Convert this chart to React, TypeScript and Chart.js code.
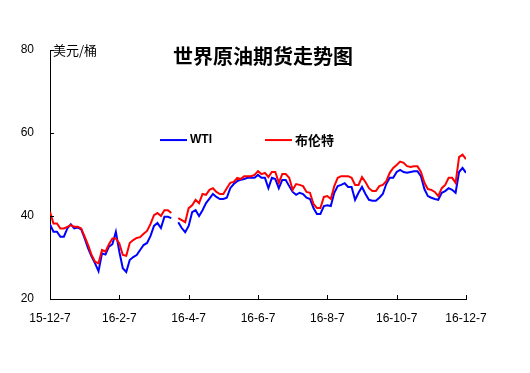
import React, { useEffect, useRef } from "react";
import { Chart, registerables } from "chart.js";

Chart.register(...registerables);

const titleText = "世界原油期货走势图";
const unitLabel = "美元/桶";
const seriesNames = ["WTI", "布伦特"];
const seriesColors = ["#0000FF", "#FF0000"];
const xTickLabels = ["15-12-7", "16-2-7", "16-4-7", "16-6-7", "16-8-7", "16-10-7", "16-12-7"];
const yTickValues = [20, 40, 60, 80];
const pointsPerTick = 20;

const wti: (number | null)[] = [
  38.0, 36.2, 36.2, 35.0, 35.0, 37.0, 38.0, 37.0, 37.2, 36.8,
  34.6, 32.2, 30.2, 28.6, 26.7, 31.0, 30.7, 32.6, 33.2, 36.2,
  31.4, 27.4, 26.5, 29.4, 30.1, 30.6, 31.8, 33.0, 33.5, 35.2,
  37.6, 38.3, 37.1, 39.8, 39.8, 39.5, null, 38.5, 37.1, 36.1,
  37.6, 40.9, 41.4, 40.0, 41.4, 43.1, 44.2, 45.3, 44.6, 44.1,
  44.1, 44.4, 46.7, 47.7, 48.4, 48.7, 48.9, 49.2, 49.2, 49.2,
  49.9, 49.2, 49.2, 46.7, 49.2, 48.9, 46.7, 48.7, 48.7, 47.2,
  45.8, 45.1, 45.6, 45.3, 44.4, 44.1, 41.9, 40.5, 40.5, 42.4,
  42.6, 42.4, 45.6, 47.2, 47.5, 47.9, 47.0, 47.0, 43.9, 45.6,
  47.0, 45.3, 43.9, 43.7, 43.7, 44.4, 45.3, 47.7, 49.2, 49.2,
  50.6, 51.1, 50.6, 50.4, 50.6, 50.8, 50.8, 49.6, 46.5, 44.8,
  44.4, 44.1, 43.9, 45.6, 46.0, 46.7, 46.3, 45.6, 50.6, 51.6,
  50.4,
];

const brent: (number | null)[] = [
  41.0, 38.2, 38.2, 37.0, 37.0, 37.4, 37.8, 37.4, 37.4, 37.0,
  35.0, 33.0, 30.6, 29.0, 28.6, 31.8, 31.4, 33.2, 34.6, 34.6,
  33.4, 30.6, 30.4, 33.5, 34.2, 34.7, 34.9, 35.7, 36.4, 38.1,
  40.2, 40.7, 40.0, 41.4, 41.4, 40.7, null, 39.5, 39.0, 38.5,
  41.9, 42.6, 43.9, 43.1, 45.3, 45.1, 46.3, 46.7, 45.8, 45.3,
  45.3, 46.7, 48.0, 48.2, 49.2, 48.9, 49.6, 49.6, 49.6, 49.9,
  50.8, 50.1, 50.4, 49.4, 50.6, 50.6, 48.0, 50.1, 50.1, 49.2,
  46.3, 47.7, 47.5, 47.2, 45.8, 45.6, 42.9, 41.9, 41.9, 44.6,
  44.8, 44.1, 47.2, 49.2, 49.6, 49.6, 49.6, 49.2, 47.5, 47.5,
  49.4, 48.2, 46.7, 46.0, 46.0, 47.2, 47.5, 48.4, 50.4, 51.6,
  52.3, 53.1, 52.8, 52.0, 51.8, 52.0, 52.0, 50.6, 48.0, 46.5,
  46.3, 45.8, 44.8, 46.7, 47.5, 49.2, 49.2, 48.0, 54.2, 54.8,
  53.7,
];

const overlayPlugin = {
  id: "overlay",
  afterDraw(chart: any) {
    const ctx = chart.ctx as CanvasRenderingContext2D;
    const { left, right, top, bottom } = chart.chartArea;
    const xs = chart.scales.x;
    const ys = chart.scales.y;
    ctx.save();
    ctx.strokeStyle = "#000";
    ctx.lineWidth = 1;
    ctx.beginPath();
    yTickValues.forEach((v) => {
      const py = Math.round(ys.getPixelForValue(v)) + 0.5;
      ctx.moveTo(left, py);
      ctx.lineTo(left + 4, py);
    });
    xTickLabels.forEach((_, i) => {
      const px = Math.round(xs.getPixelForValue(i * pointsPerTick)) + 0.5;
      ctx.moveTo(px, bottom);
      ctx.lineTo(px, bottom - 4);
    });
    ctx.stroke();

    ctx.fillStyle = "#000";
    ctx.textBaseline = "middle";
    ctx.textAlign = "left";
    ctx.font = '13px "Noto Sans CJK SC"';
    ctx.fillText(unitLabel, left + 3, top);

    ctx.textAlign = "center";
    ctx.font = 'bold 20px "Noto Sans CJK SC"';
    ctx.fillText(titleText, (left + right) / 2 + 5, top + 6);

    // legend
    const ly = ys.getPixelForValue(58.3);
    const legendX = [160, 265];
    seriesNames.forEach((name, i) => {
      const lx = legendX[i];
      ctx.strokeStyle = seriesColors[i];
      ctx.lineWidth = 2;
      ctx.beginPath();
      ctx.moveTo(lx, ly);
      ctx.lineTo(lx + 27, ly);
      ctx.stroke();
      ctx.fillStyle = "#000";
      ctx.textAlign = "left";
      ctx.font = i === 0 ? 'bold 12px "Liberation Sans"' : 'bold 13px "Noto Sans CJK SC"';
      ctx.fillText(name, lx + 30, ly);
    });
    ctx.restore();
  },
};

export default function App() {
  const ref = useRef<HTMLCanvasElement | null>(null);
  useEffect(() => {
    if (!ref.current) return;
    const data = wti.map((_, i) => i);
    const chart = new Chart(ref.current, {
      type: "line",
      data: {
        datasets: [
          {
            label: seriesNames[0],
            data: wti.map((v, i) => ({ x: data[i], y: v })),
            borderColor: seriesColors[0],
            borderWidth: 2,
            pointRadius: 0,
            tension: 0,
            spanGaps: false,
            order: 1,
          },
          {
            label: seriesNames[1],
            data: brent.map((v, i) => ({ x: data[i], y: v })),
            borderColor: seriesColors[1],
            borderWidth: 2,
            pointRadius: 0,
            tension: 0,
            spanGaps: false,
            order: 0,
          },
        ] as any,
      },
      options: {
        animation: false,
        responsive: true,
        maintainAspectRatio: false,
        layout: { padding: { top: 50, right: 64, bottom: 0, left: 0 } },
        plugins: { legend: { display: false }, title: { display: false }, tooltip: { enabled: false } },
        scales: {
          x: {
            type: "linear",
            min: 0,
            max: (xTickLabels.length - 1) * pointsPerTick,
            grid: { display: false, drawTicks: false },
            border: { display: true, color: "#000", width: 1 },
            ticks: {
              stepSize: pointsPerTick,
              autoSkip: false,
              maxRotation: 0,
              padding: 12,
              color: "#000",
              font: { family: '"Liberation Sans"', size: 12 },
              callback: (v: any) => xTickLabels[Math.round(Number(v) / pointsPerTick)] ?? "",
            },
            afterFit: (s: any) => {
              s.height = 74;
            },
          },
          y: {
            min: 20,
            max: 80,
            grid: { display: false, drawTicks: false },
            border: { display: true, color: "#000", width: 1 },
            ticks: {
              stepSize: 20,
              padding: 16,
              color: "#000",
              font: { family: '"Liberation Sans"', size: 12 },
            },
            afterFit: (s: any) => {
              s.width = 50;
            },
          },
        },
      },
      plugins: [overlayPlugin],
    });
    return () => chart.destroy();
  }, []);
  return (
    <div style={{ position: "fixed", left: 0, top: 0, width: 530, height: 373, background: "#fff" }}>
      <canvas ref={ref} />
    </div>
  );
}
